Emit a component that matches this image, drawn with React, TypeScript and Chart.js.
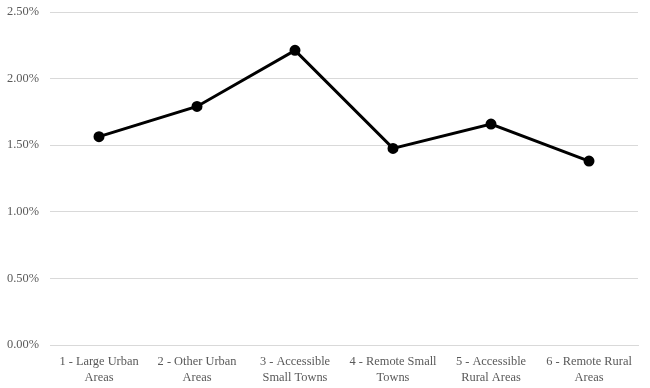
import React, { useEffect, useRef } from "react";
import { Chart, registerables } from "chart.js";

Chart.register(...registerables);

const categories: string[][] = [
  ["1 - Large Urban", "Areas"],
  ["2 - Other Urban", "Areas"],
  ["3 - Accessible", "Small Towns"],
  ["4 - Remote Small", "Towns"],
  ["5 - Accessible", "Rural Areas"],
  ["6 - Remote Rural", "Areas"],
];
const values: number[] = [0.01564, 0.01791, 0.02212, 0.01476, 0.01659, 0.01381];
const yMin = 0;
const yMax = 0.025;
const yStep = 0.005;

export default function App() {
  const ref = useRef<HTMLCanvasElement | null>(null);
  useEffect(() => {
    document.body.style.margin = "0";
    const canvas = ref.current;
    if (!canvas) return;
    const font = { family: "'Liberation Serif', 'Times New Roman', serif", size: 12.4, lineHeight: 1.3 };
    const chart = new Chart(canvas, {
      type: "line",
      data: {
        labels: categories,
        datasets: [
          {
            data: values,
            borderColor: "#000000",
            backgroundColor: "#000000",
            borderWidth: 3,
            pointRadius: 4,
            pointHoverRadius: 4,
            pointBackgroundColor: "#000000",
            pointBorderColor: "#000000",
            tension: 0,
            fill: false,
          },
        ],
      },
      options: {
        animation: false,
        responsive: false,
        maintainAspectRatio: false,
        layout: { padding: { left: 0, right: 12, top: 12, bottom: 0 } },
        plugins: { legend: { display: false }, tooltip: { enabled: false } },
        scales: {
          x: {
            offset: true,
            grid: { display: false, drawTicks: false },
            border: { display: true, color: "#d9d9d9", width: 1 },
            ticks: {
              color: "#595959",
              font,
              padding: 9,
              maxRotation: 0,
              minRotation: 0,
              autoSkip: false,
            },
            afterFit: (scale: any) => {
              scale.height = 43;
              scale.paddingLeft = 0;
              scale.paddingRight = 0;
            },
          },
          y: {
            min: yMin,
            max: yMax,
            grid: { color: "#d9d9d9", drawTicks: false, lineWidth: 1 },
            border: { display: false },
            ticks: {
              stepSize: yStep,
              color: "#595959",
              font,
              padding: 11,
              callback: (v: any) => (Number(v) * 100).toFixed(2) + "%",
            },
            afterFit: (scale: any) => {
              scale.width = 50;
              scale.paddingTop = 0;
              scale.paddingBottom = 0;
            },
          },
        },
      },
    });
    return () => chart.destroy();
  }, []);
  return (
    <div style={{ width: 650, height: 388, background: "#ffffff" }}>
      <canvas ref={ref} width={650} height={388} style={{ display: "block" }} />
    </div>
  );
}
